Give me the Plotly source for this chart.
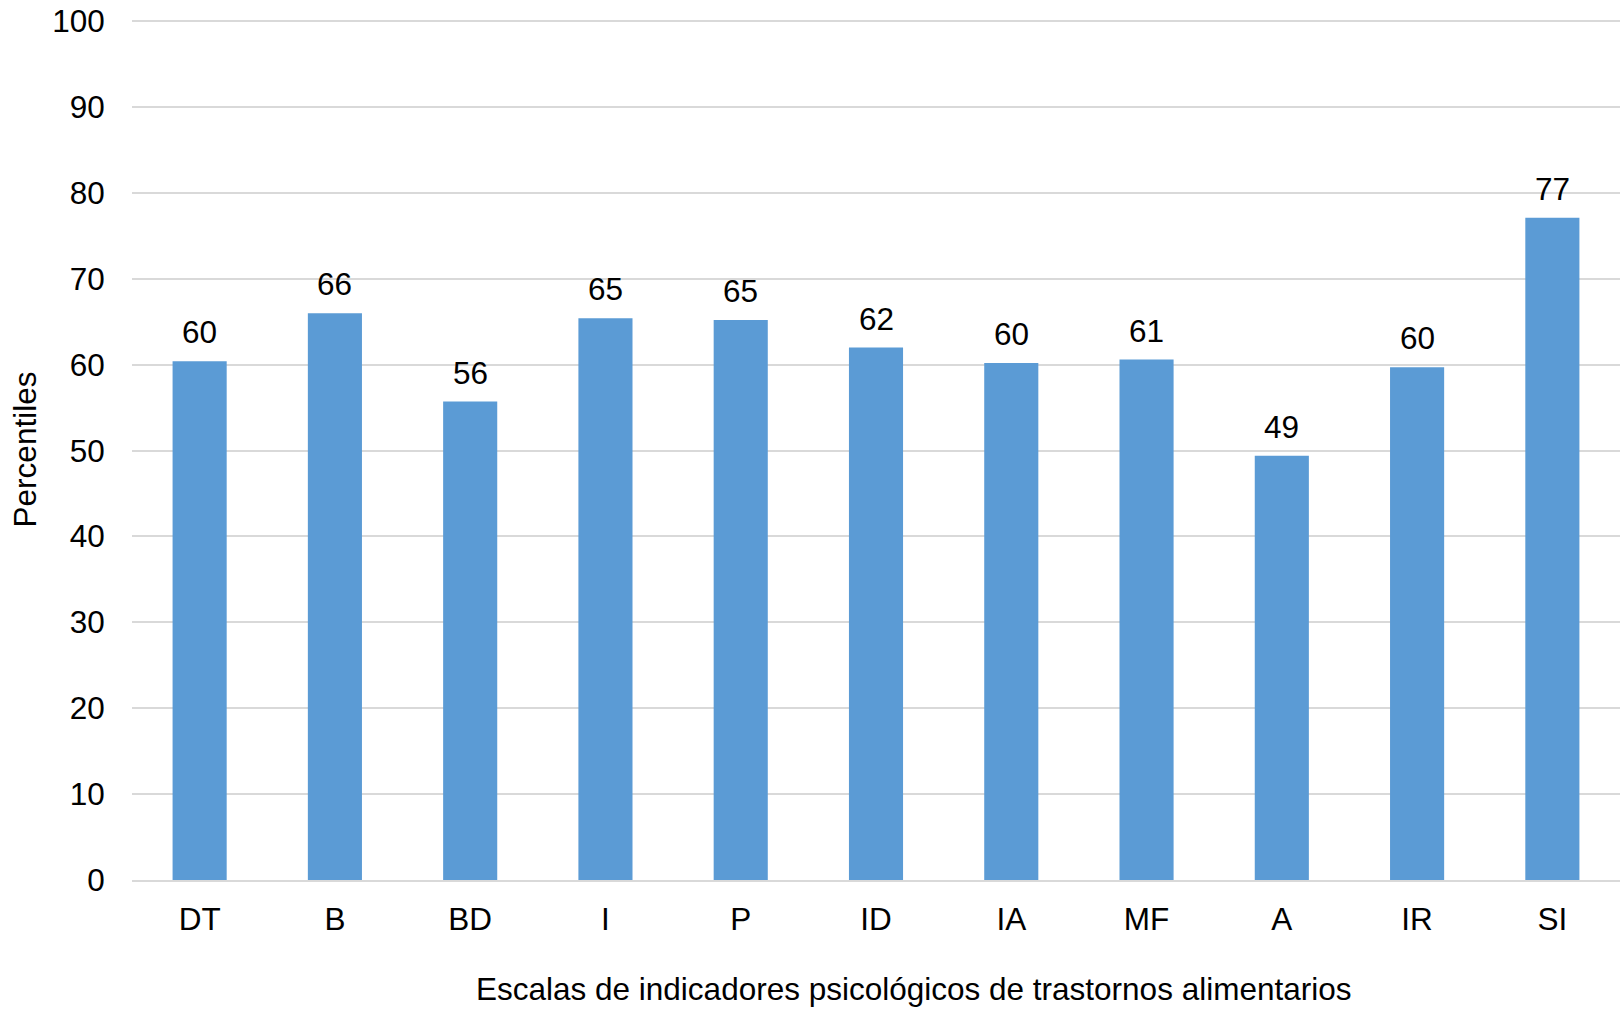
import plotly.graph_objects as go

# Eating-disorder psychological indicator scales (percentiles)
scales = ["DT", "B", "BD", "I", "P", "ID", "IA", "MF", "A", "IR", "SI"]
percentiles = [60.4, 66.0, 55.7, 65.4, 65.2, 62.0, 60.2, 60.6, 49.4, 59.7, 77.1]
y_ticks = [0, 10, 20, 30, 40, 50, 60, 70, 80, 90, 100]
x_title = "Escalas de indicadores psicológicos de trastornos alimentarios"

FONT = "Liberation Sans, Arial, sans-serif"
FONT_SIZE = 31.5
BAR_COLOR = "#5B9BD5"
GRID_COLOR = "#D9D9D9"

fig = go.Figure()
fig.add_trace(go.Bar(
    x=scales,
    y=percentiles,
    marker=dict(color=BAR_COLOR, line=dict(width=0)),
    hoverinfo="x+y",
))

# value labels above each bar, rounded to whole percentiles
for s, v in zip(scales, percentiles):
    fig.add_annotation(
        x=s, y=v, text=f"{v:.0f}",
        showarrow=False, yanchor="bottom", yshift=9,
        font=dict(family=FONT, size=FONT_SIZE, color="#000000"),
    )

# category-axis title, placed slightly right of the plot centre
fig.add_annotation(
    text=x_title, xref="paper", yref="paper",
    x=0.525, y=0, xanchor="center", yanchor="top", yshift=-89,
    showarrow=False,
    font=dict(family=FONT, size=FONT_SIZE, color="#000000"),
)

fig.update_layout(
    width=1620, height=1009,
    margin=dict(l=132, r=0, t=19, b=129),
    paper_bgcolor="white", plot_bgcolor="white",
    bargap=0.6,
    showlegend=False,
    font=dict(family=FONT, size=FONT_SIZE, color="#000000"),
    xaxis=dict(
        showgrid=False,
        showline=True, linecolor=GRID_COLOR, linewidth=2,
        ticks="outside", ticklen=10, tickcolor="rgba(0,0,0,0)",
        tickfont=dict(family=FONT, size=FONT_SIZE, color="#000000"),
    ),
    yaxis=dict(
        range=[0, 100.25],
        tickvals=y_ticks,
        showgrid=True, gridcolor=GRID_COLOR, gridwidth=2,
        zeroline=False, showline=False,
        ticks="outside", ticklen=20, tickcolor="rgba(0,0,0,0)",
        tickfont=dict(family=FONT, size=FONT_SIZE, color="#000000"),
        title=dict(text="Percentiles",
                   font=dict(family=FONT, size=FONT_SIZE, color="#000000"), standoff=6),
    ),
)

fig.write_html("out.html")
